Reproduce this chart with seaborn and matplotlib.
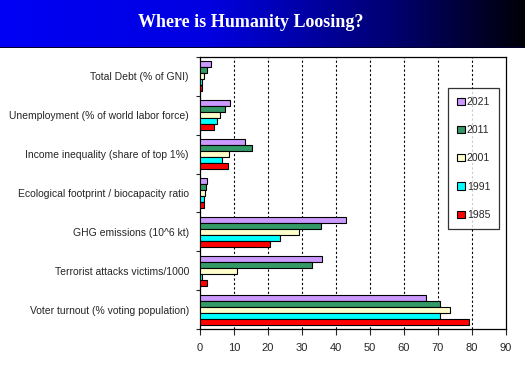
import numpy as np
import pandas as pd
import matplotlib
matplotlib.use("Agg")
import matplotlib.pyplot as plt
from matplotlib.colors import LinearSegmentedColormap
import seaborn as sns

# indicators, top to bottom
categories = [
    "Total Debt (% of GNI)",
    "Unemployment (% of world labor force)",
    "Income inequality (share of top 1%)",
    "Ecological footprint / biocapacity ratio",
    "GHG emissions (10^6 kt)",
    "Terrorist attacks victims/1000",
    "Voter turnout (% voting population)",
]
years = ["2021", "2011", "2001", "1991", "1985"]

v2021 = [3.3, 8.8, 13.2, 2.1, 43.0, 36.0, 66.5]
v2011 = [2.1, 7.4, 15.4, 1.8, 35.6, 32.9, 70.6]
v2001 = [1.2, 5.9, 8.5, 1.5, 29.1, 11.0, 73.5]
v1991 = [0.6, 5.0, 6.5, 1.2, 23.5, 0.6, 70.6]
v1985 = [0.6, 4.2, 8.3, 1.2, 20.6, 2.1, 79.1]

colors = ["#cc99ff", "#339966", "#ffffcc", "#00ffff", "#ff0000"]

rows = []
for yr, vals in zip(years, [v2021, v2011, v2001, v1991, v1985]):
    for c, v in zip(categories, vals):
        rows.append({"indicator": c, "year": yr, "value": v})
df = pd.DataFrame(rows)

sns.set_style("white")
plt.rcParams["font.family"] = ["Liberation Sans", "DejaVu Sans"]

fig = plt.figure(figsize=(5.25, 3.72), dpi=100)

# title band with blue-to-black gradient
band = fig.add_axes([0, 1 - 48 / 372, 1, 48 / 372])
grad = LinearSegmentedColormap.from_list("b", [(0, "#0000f5"), (0.4, "#0000e0"), (0.75, "#000070"), (1, "#000008")])
band.imshow(np.linspace(0, 1, 256)[None, :], cmap=grad, aspect="auto", extent=[0, 1, 0, 1])
band.axhline(0, color="#000030", lw=1.5)
band.set_axis_off()
band.text(0.478, 0.54, "Where is Humanity Loosing?", color="white", ha="center", va="center",
          fontsize=13, fontweight="bold", family=["Liberation Serif", "DejaVu Serif"])

ax = fig.add_axes([200 / 525, 1 - 329 / 372, 306 / 525, 272 / 372])
sns.barplot(data=df, x="value", y="indicator", hue="year", order=categories, hue_order=years,
            palette=colors, orient="h", width=0.77, edgecolor="black", linewidth=0.8,
            saturation=1, ax=ax, zorder=3)

ax.set_xlim(0, 90)
ax.set_xticks(range(0, 91, 10))
ax.set_ylim(len(categories) - 0.5, -0.5)
ax.set_yticks(np.arange(len(categories)))
ax.set_yticks(np.arange(-0.5, len(categories)), minor=True)
ax.tick_params(axis="y", which="major", length=0, labelsize=7.5, pad=8)
ax.tick_params(axis="y", which="minor", length=3, width=0.8, direction="out", left=True)
ax.tick_params(axis="x", length=4, width=0.8, direction="out", bottom=True, labelsize=8, pad=6)
ax.set_xlabel("")
ax.set_ylabel("")
for x in range(10, 90, 10):
    ax.axvline(x, color="black", lw=0.8, ls=(0, (2, 2)), zorder=1)
for s in ax.spines.values():
    s.set_color("black")
    s.set_linewidth(0.9)

ax.legend(loc="upper left", bbox_to_anchor=(0.795, 0.905), frameon=True, fancybox=False,
          edgecolor="black", fontsize=7.5, handlelength=0.7, handleheight=0.7,
          handletextpad=0.2, labelspacing=1.75, borderpad=0.85, title=None)
leg = ax.get_legend()
leg.get_frame().set_linewidth(0.9)

fig.savefig("out.png", dpi=100)
